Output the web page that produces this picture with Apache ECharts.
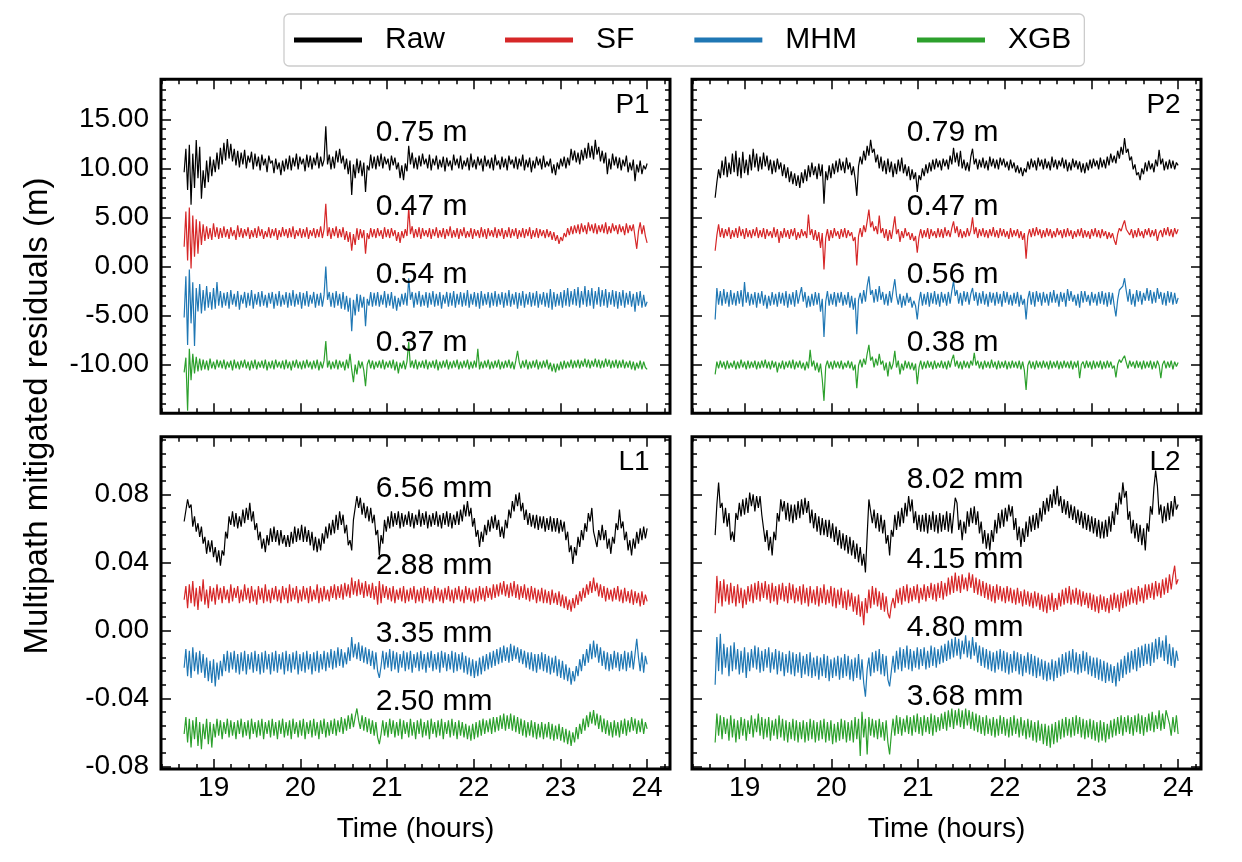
<!DOCTYPE html>
<html><head><meta charset="utf-8">
<script src="https://cdn.jsdelivr.net/npm/echarts@6/dist/echarts.min.js"></script>
<style>html,body{margin:0;padding:0;background:#fff}#c{width:1242px;height:862px}</style>
</head><body><div id="c"></div>
<script>
// ---------------- data ----------------
const seriesNames = ['Raw', 'SF', 'MHM', 'XGB'];
const panelNames = ['P1', 'P2', 'L1', 'L2'];
const xTicks = [19, 20, 21, 22, 23, 24];
const pTicks = [-10, -5, 0, 5, 10, 15];
const lTicks = [-0.08, -0.04, 0, 0.04, 0.08];
const tStart = 18.66, tEnd = 24.0;   // hours, first and last epoch

const p1Rms = ['0.75 m', '0.47 m', '0.54 m', '0.37 m'];
const p2Rms = ['0.79 m', '0.47 m', '0.56 m', '0.38 m'];
const l1Rms = ['6.56 mm', '2.88 mm', '3.35 mm', '2.50 mm'];
const l2Rms = ['8.02 mm', '4.15 mm', '4.80 mm', '3.68 mm'];

const p1Raw = [9.6,12.0,7.8,12.4,6.3,11.5,8.0,12.9,9.0,12.2,6.9,9.8,8.0,10.8,8.6,11.2,9.2,10.9,9.6,11.6,9.9,12.1,10.4,12.6,10.8,13.0,11.0,12.5,10.7,12.0,10.3,11.8,10.1,11.6,10.4,11.9,10.0,11.3,10.6,11.7,9.9,11.5,10.2,11.2,9.8,11.4,10.3,11.0,9.6,11.3,10.5,10.8,9.5,11.0,9.9,10.6,9.3,10.8,9.7,11.0,9.9,11.3,9.8,11.1,10.2,11.5,9.9,11.2,10.4,11.0,9.7,11.4,10.1,11.3,9.9,11.1,10.3,11.6,10.0,11.2,10.2,10.9,14.3,10.4,11.4,9.9,11.2,10.0,11.8,10.6,12.0,10.5,11.3,9.9,11.0,9.4,10.8,7.3,10.4,9.0,11.0,9.5,10.8,9.2,10.6,7.6,10.3,9.8,11.4,10.0,11.2,9.9,11.3,10.2,11.5,10.0,11.2,10.4,11.0,9.8,11.3,10.3,11.1,9.9,10.6,9.0,10.3,8.8,10.5,9.7,12.3,10.4,11.6,10.0,11.1,9.9,11.3,10.2,11.5,10.4,11.0,10.0,11.4,9.8,11.0,10.3,11.3,9.9,10.9,10.1,11.2,9.7,11.1,10.2,10.8,9.8,11.4,10.3,11.0,10.0,11.3,9.9,10.8,10.2,11.1,9.8,11.5,10.1,10.9,9.9,11.2,10.3,11.0,9.7,11.3,10.2,10.9,10.0,11.1,9.8,11.4,10.3,10.8,9.9,11.2,10.1,11.0,9.8,11.3,10.4,10.9,10.0,11.2,9.9,11.0,10.2,11.4,9.8,10.9,10.1,11.1,9.6,10.8,10.0,11.2,10.3,11.0,9.9,11.3,10.1,10.7,10.2,11.0,9.5,10.4,9.3,10.6,9.9,11.0,10.2,11.2,10.0,11.1,10.3,12.0,10.8,11.8,10.6,11.6,10.4,11.9,10.8,12.1,11.0,12.6,11.1,12.3,10.9,12.9,11.4,12.2,10.7,11.8,10.5,11.6,9.4,11.0,9.9,11.5,10.3,11.2,10.0,11.1,9.8,10.9,10.2,11.3,9.6,10.6,9.8,10.9,8.7,10.4,9.6,10.8,9.4,10.3,9.9,10.5];
const p1SF = [2.0,5.6,0.6,6.0,-0.2,5.2,1.0,4.8,1.3,4.6,2.2,4.3,2.6,4.1,2.8,3.9,2.7,4.4,3.0,4.0,2.8,3.9,2.9,4.1,3.0,3.8,2.8,4.0,3.1,3.7,2.7,4.2,3.0,3.9,2.9,3.8,3.1,4.0,2.8,3.7,3.0,3.9,2.9,4.1,3.1,3.8,2.8,3.6,3.0,4.0,2.9,3.8,3.1,3.9,2.7,3.7,3.0,4.0,3.1,3.8,2.9,3.9,3.0,4.1,2.8,3.7,3.1,3.9,2.9,3.8,3.0,4.0,2.8,3.7,3.1,3.9,2.9,3.8,3.0,4.1,2.9,3.8,6.4,3.1,4.0,2.8,3.9,3.1,4.1,2.9,3.8,3.0,4.0,2.7,3.6,2.5,3.5,1.6,3.3,2.2,3.9,2.7,3.8,2.9,3.7,1.3,3.4,2.8,3.9,3.0,3.8,2.9,3.9,3.1,3.7,2.8,4.0,3.0,3.8,2.9,3.9,3.1,3.7,2.6,3.5,2.4,3.6,2.9,3.8,3.1,6.0,3.3,4.1,2.9,3.8,3.0,4.0,2.8,3.9,3.1,3.7,3.0,3.9,2.8,3.8,3.1,4.0,2.9,3.7,3.0,3.9,2.8,3.8,3.1,4.1,2.9,3.7,3.0,3.9,2.8,3.8,3.1,4.0,2.9,3.6,3.0,3.9,2.8,3.8,3.1,3.7,2.9,4.0,3.0,3.8,2.8,3.9,3.1,3.7,3.0,4.0,2.9,3.8,3.1,3.9,2.8,3.7,3.0,4.0,2.9,3.8,3.1,3.9,2.8,3.7,3.0,3.9,2.9,3.8,3.1,4.0,2.8,3.7,3.0,3.9,2.9,3.8,3.1,3.7,2.9,3.8,3.0,3.6,2.7,3.5,2.6,3.2,2.3,3.0,2.6,3.4,3.0,3.9,3.2,4.1,3.3,4.2,3.4,4.3,3.3,4.4,3.5,4.2,3.3,4.5,3.6,4.3,3.4,4.4,3.3,4.2,3.5,4.3,3.4,4.5,3.3,4.1,3.4,4.4,3.6,4.2,3.3,4.3,3.5,4.1,3.2,4.4,3.4,4.2,3.6,4.3,3.0,1.8,3.6,4.5,3.3,4.2,3.1,2.4];
const p1MHM = [-5.2,-1.0,-8.0,-0.3,-5.8,-1.6,-8.1,-2.2,-4.6,-1.8,-4.8,-2.4,-4.5,-2.0,-4.2,-2.6,-4.4,-2.2,-4.3,-1.6,-4.0,-2.5,-4.2,-2.7,-4.0,-2.6,-4.3,-2.4,-3.9,-2.8,-4.1,-2.5,-4.4,-2.9,-3.8,-2.6,-4.2,-2.7,-4.0,-2.4,-4.3,-2.8,-3.9,-2.6,-4.1,-2.5,-4.0,-2.9,-4.2,-2.7,-3.8,-2.6,-4.3,-2.8,-4.0,-2.5,-4.1,-2.9,-3.9,-2.6,-4.2,-2.7,-4.0,-2.4,-4.1,-2.8,-3.9,-2.6,-4.3,-2.7,-4.0,-2.5,-4.1,-2.9,-3.8,-2.6,-4.2,-2.8,-4.0,-2.7,-4.1,-2.9,0.0,-3.4,-2.6,-4.1,-2.7,-4.2,-2.5,-4.0,-2.8,-4.3,-2.6,-4.4,-3.0,-4.6,-3.2,-6.6,-3.4,-5.0,-2.8,-4.6,-2.9,-4.2,-3.1,-6.1,-3.3,-4.0,-2.6,-4.1,-2.7,-4.0,-2.6,-4.1,-2.9,-3.9,-2.5,-4.2,-2.8,-4.0,-2.6,-4.3,-3.0,-4.5,-3.2,-4.1,-2.8,-3.9,-2.7,-4.0,-1.2,-3.4,-2.6,-4.2,-2.7,-3.9,-2.5,-4.1,-2.9,-4.0,-2.6,-4.2,-2.7,-3.9,-2.5,-4.1,-2.8,-4.0,-2.6,-4.3,-2.9,-3.8,-2.6,-4.1,-2.7,-4.0,-2.5,-4.2,-2.8,-3.9,-2.6,-4.1,-2.7,-4.0,-2.4,-4.2,-2.8,-3.9,-2.6,-4.1,-2.7,-4.3,-2.5,-4.0,-2.8,-3.9,-2.6,-4.2,-2.7,-4.0,-2.5,-4.1,-2.8,-3.9,-2.6,-4.2,-2.7,-4.0,-2.4,-4.1,-2.8,-3.9,-2.6,-4.3,-2.7,-4.0,-2.5,-4.2,-2.8,-3.9,-2.6,-4.1,-2.7,-4.0,-2.5,-4.2,-2.8,-3.9,-2.6,-4.1,-2.7,-4.2,-2.3,-4.4,-2.6,-4.1,-2.8,-4.0,-2.6,-4.2,-2.4,-4.0,-2.2,-4.1,-2.5,-3.9,-2.3,-4.0,-2.1,-4.2,-2.5,-3.9,-2.0,-4.1,-2.4,-4.0,-2.2,-4.3,-2.5,-3.9,-2.1,-4.1,-2.4,-4.0,-2.3,-4.2,-2.6,-3.9,-2.4,-4.1,-2.5,-4.3,-2.6,-4.0,-2.4,-4.2,-2.7,-3.9,-2.5,-4.1,-2.8,-4.6,-2.6,-4.0,-2.5,-4.2,-2.9,-4.1,-3.6];
const p1XGB = [-10.8,-9.3,-14.7,-8.4,-11.6,-8.9,-10.9,-9.2,-10.7,-9.4,-10.6,-9.5,-10.5,-9.6,-10.6,-9.4,-10.4,-9.7,-10.5,-9.5,-10.3,-9.6,-10.4,-9.5,-10.5,-9.7,-10.3,-9.6,-10.6,-9.5,-10.4,-9.7,-10.5,-9.6,-10.3,-9.5,-10.4,-9.7,-10.6,-9.6,-10.4,-9.5,-10.5,-9.7,-10.3,-9.6,-10.4,-9.5,-10.6,-9.7,-10.4,-9.6,-10.5,-9.5,-10.3,-9.7,-10.4,-9.6,-10.5,-9.5,-10.4,-9.7,-10.6,-9.6,-10.3,-9.5,-10.4,-9.7,-10.5,-9.6,-10.4,-9.5,-10.3,-9.7,-10.5,-9.6,-10.4,-9.5,-10.6,-9.7,-10.4,-9.6,-7.6,-10.3,-9.6,-10.5,-9.7,-10.4,-9.5,-10.5,-9.6,-10.3,-9.7,-10.6,-9.5,-10.4,-8.9,-10.5,-11.8,-10.0,-11.0,-9.6,-10.4,-9.7,-10.6,-12.2,-10.0,-9.5,-10.4,-9.6,-10.5,-9.7,-10.3,-9.6,-10.4,-9.5,-10.5,-9.7,-10.3,-9.6,-10.4,-9.5,-10.6,-9.7,-10.9,-9.8,-10.4,-9.6,-10.5,-9.7,-7.7,-10.3,-9.6,-10.4,-9.5,-10.5,-9.7,-10.3,-9.6,-10.4,-9.5,-10.5,-9.7,-10.3,-9.6,-10.4,-9.5,-10.6,-9.7,-10.4,-9.6,-10.3,-9.5,-10.5,-9.7,-10.4,-9.6,-10.3,-9.5,-10.5,-9.7,-10.4,-9.6,-10.3,-9.5,-10.5,-9.7,-10.4,-9.6,-10.3,-8.4,-10.5,-9.7,-10.4,-9.6,-10.3,-9.5,-10.5,-9.7,-10.4,-9.6,-10.3,-9.5,-10.5,-9.7,-10.4,-9.6,-10.3,-9.5,-10.4,-9.7,-10.5,-9.6,-8.6,-9.8,-10.4,-9.6,-10.3,-9.5,-10.5,-9.7,-10.4,-9.6,-10.3,-9.5,-10.5,-9.7,-10.4,-9.6,-10.3,-9.5,-10.5,-9.8,-10.7,-9.9,-10.8,-9.9,-10.6,-9.7,-10.5,-9.6,-10.4,-9.7,-10.3,-9.5,-10.4,-9.6,-10.3,-9.5,-10.4,-9.6,-10.2,-9.4,-10.3,-9.5,-10.4,-9.6,-10.2,-9.4,-10.3,-9.5,-10.4,-9.6,-10.3,-9.4,-10.2,-9.5,-10.4,-9.6,-10.3,-9.5,-10.4,-9.6,-10.3,-9.5,-10.4,-9.7,-10.3,-9.6,-10.5,-9.7,-10.6,-9.8,-10.4,-9.6,-10.5,-9.7,-10.3,-10.5];

const p2Raw = [7.0,8.6,9.9,9.0,10.8,9.3,11.2,9.1,10.6,9.4,11.5,9.6,11.8,9.2,11.1,9.0,11.7,9.5,10.9,9.3,11.4,9.8,12.0,10.1,11.5,9.7,11.2,9.9,11.6,10.2,11.3,9.8,10.9,9.4,10.8,9.6,11.0,9.9,10.6,9.2,10.4,9.0,10.1,8.6,9.7,8.4,9.5,8.2,9.3,8.0,9.6,8.5,9.9,8.7,10.3,9.1,10.6,9.3,10.2,8.9,10.5,9.2,10.4,6.4,9.7,8.8,10.3,9.0,10.5,9.4,10.8,9.6,11.0,9.8,10.7,9.5,11.1,9.9,10.6,9.3,10.2,9.0,7.2,10.2,11.2,10.4,11.8,10.8,12.3,11.3,12.9,11.6,12.0,10.6,11.4,10.0,11.2,9.7,10.8,9.4,11.0,9.6,10.7,9.1,10.5,9.4,10.9,9.7,11.1,9.5,10.4,9.2,10.2,8.8,9.9,8.9,9.6,7.6,9.3,8.8,10.0,9.2,10.4,9.5,10.6,9.7,10.9,9.9,11.0,10.1,10.8,9.8,11.0,10.2,10.9,9.9,11.3,10.4,12.1,10.6,11.6,10.2,11.8,10.0,10.9,9.8,10.6,9.7,11.2,12.0,10.4,11.0,9.9,10.9,10.1,11.1,10.0,10.8,9.8,11.2,10.2,11.0,10.0,10.9,9.9,11.1,10.3,11.0,10.1,10.7,9.8,10.9,10.0,10.6,9.6,10.3,9.5,10.1,9.2,10.0,9.6,10.7,9.9,11.0,10.1,10.8,9.8,11.1,10.2,10.9,9.9,11.0,10.0,10.7,9.8,11.2,10.1,10.9,9.9,10.8,10.2,11.1,10.0,10.9,9.7,10.6,9.8,11.0,10.1,10.8,9.9,10.7,9.6,10.5,9.5,10.6,9.8,10.9,10.0,11.0,10.2,10.8,9.9,11.1,10.1,10.9,10.0,11.2,10.3,11.5,10.6,11.3,10.5,11.8,11.0,12.2,11.4,13.1,11.6,12.0,10.8,11.2,9.9,10.4,9.3,9.6,8.8,10.0,9.4,10.6,9.7,10.8,9.9,10.5,9.6,10.9,10.2,11.9,10.4,11.0,9.8,10.7,9.9,10.9,10.0,10.8,9.9,10.6,10.3];
const p2SF = [1.6,3.2,4.3,3.0,3.9,2.9,3.8,3.1,4.0,2.8,3.7,3.0,3.9,2.9,4.1,3.1,3.8,2.8,3.9,3.0,3.7,2.9,3.8,3.1,4.0,2.9,3.7,3.0,3.9,2.8,3.8,3.1,3.6,2.9,4.0,3.0,3.8,2.4,3.6,2.9,3.9,3.0,3.7,2.8,3.8,3.1,3.9,2.7,3.5,2.9,3.8,3.1,3.6,2.9,5.3,3.2,3.8,2.7,3.7,2.6,3.5,1.9,3.4,-0.3,2.9,3.8,2.6,3.7,2.9,3.9,3.1,3.6,2.8,3.8,3.0,3.9,2.9,3.7,3.1,3.5,2.6,3.0,0.1,3.1,3.9,3.0,4.2,3.5,4.6,5.8,4.0,4.6,3.6,4.1,3.3,5.2,3.4,3.9,2.9,3.8,2.6,3.7,2.8,3.9,5.1,3.3,3.8,2.5,3.6,2.9,3.9,3.1,3.5,2.7,3.4,2.6,3.1,1.4,3.0,3.8,2.9,3.7,3.0,3.9,2.8,3.8,3.1,3.6,2.9,3.9,3.0,3.8,2.9,4.0,3.1,3.7,3.0,3.9,4.6,3.4,4.1,3.0,3.8,2.9,3.6,3.0,3.9,3.1,3.7,5.0,3.3,4.0,2.9,3.8,3.1,3.9,3.0,3.7,2.9,3.8,3.1,4.0,3.0,3.7,2.9,3.9,3.1,3.8,3.0,3.6,2.8,3.9,3.0,3.7,3.1,3.8,2.9,3.6,2.7,3.4,0.8,3.1,3.8,3.0,3.9,3.1,4.0,3.2,3.8,2.9,3.7,3.0,3.9,3.1,3.8,2.9,3.6,3.0,3.9,3.2,3.7,2.9,3.8,3.0,3.9,3.1,3.7,2.8,3.6,3.0,3.8,3.1,3.9,2.9,3.7,3.0,3.6,2.8,3.8,3.1,3.9,3.0,3.7,2.9,3.8,3.1,3.6,2.8,3.5,2.9,3.4,2.7,2.2,3.3,3.9,3.6,4.2,4.7,3.8,3.9,3.2,3.8,2.9,3.7,3.0,3.9,3.1,3.6,2.9,3.8,3.2,3.9,3.0,3.7,3.1,3.8,2.6,3.4,3.7,3.0,3.9,3.2,4.0,3.1,3.8,3.0,3.9,3.3,3.8];
const p2MHM = [-5.4,-2.2,-3.9,-2.5,-4.0,-2.3,-3.8,-2.6,-4.1,-2.4,-3.9,-2.7,-4.0,-2.5,-3.8,-2.4,-4.1,-1.6,-3.7,-2.6,-4.0,-2.8,-3.9,-2.6,-4.2,-2.7,-3.8,-2.5,-4.0,-2.9,-4.3,-3.0,-4.0,-2.6,-3.9,-2.8,-4.1,-2.6,-3.8,-2.7,-4.0,-2.5,-4.2,-2.8,-3.9,-2.6,-4.1,-2.4,-3.8,-2.9,-2.1,-3.6,-2.6,-4.2,-3.0,-4.1,-2.8,-4.0,-2.6,-3.9,-2.7,-4.6,-3.3,-7.2,-3.6,-2.5,-4.0,-2.8,-3.9,-2.6,-4.1,-2.7,-3.7,-2.6,-4.0,-2.9,-3.9,-2.6,-4.2,-3.0,-4.4,-3.2,-6.9,-3.4,-2.7,-3.8,-2.4,-3.6,-2.0,-1.0,-2.9,-2.4,-3.7,-2.3,-3.6,-2.0,-3.4,-2.6,-3.9,-2.8,-4.0,-2.5,-3.7,-2.4,-1.3,-3.0,-3.9,-2.8,-4.2,-3.0,-4.0,-2.7,-3.7,-3.1,-4.2,-3.5,-4.0,-5.4,-3.6,-2.6,-4.0,-2.8,-3.9,-2.6,-4.1,-2.7,-3.8,-2.5,-3.9,-2.8,-4.1,-2.6,-3.7,-2.8,-4.0,-2.6,-3.8,-2.5,-1.5,-3.0,-2.4,-3.8,-2.7,-4.0,-2.5,-3.6,-2.6,-3.9,-2.8,-2.2,-3.5,-2.6,-4.0,-2.7,-3.8,-2.5,-3.9,-2.8,-4.1,-2.6,-3.7,-2.7,-4.0,-2.6,-3.8,-2.8,-4.1,-2.5,-3.7,-2.6,-3.9,-2.9,-4.0,-2.7,-3.8,-2.6,-4.1,-2.9,-3.9,-3.3,-5.4,-3.3,-2.5,-3.9,-2.6,-4.1,-2.5,-3.6,-2.7,-4.0,-2.6,-3.7,-2.8,-4.0,-2.6,-3.7,-2.4,-3.7,-2.8,-4.1,-2.6,-3.6,-2.7,-4.1,-2.3,-3.5,-2.5,-3.6,-2.9,-4.0,-2.8,-4.2,-2.5,-3.7,-2.5,-3.6,-2.9,-4.0,-2.6,-3.7,-2.8,-4.0,-2.6,-3.8,-2.5,-3.9,-2.7,-4.1,-2.6,-3.9,-2.7,-4.0,-5.1,-3.4,-2.4,-2.2,-2.0,-1.2,-2.5,-3.6,-2.3,-3.9,-2.8,-4.1,-2.4,-3.6,-2.5,-3.9,-2.7,-3.5,-2.2,-3.5,-2.4,-3.8,-2.6,-3.7,-2.2,-3.3,-2.6,-3.9,-2.7,-4.0,-2.5,-3.7,-2.6,-3.9,-2.7,-3.8,-3.2];
const p2XGB = [-11.0,-9.7,-10.4,-9.6,-10.3,-9.7,-10.5,-9.6,-10.4,-9.8,-10.3,-9.6,-10.5,-9.7,-10.4,-9.5,-10.3,-9.7,-10.5,-9.6,-10.4,-9.7,-10.3,-9.6,-10.5,-9.7,-10.4,-9.6,-10.3,-9.5,-10.4,-9.7,-10.5,-9.6,-10.3,-9.7,-10.8,-9.8,-10.4,-9.6,-10.5,-9.7,-10.3,-9.6,-10.4,-9.5,-10.5,-9.7,-10.3,-9.6,-10.4,-9.8,-10.6,-9.7,-10.4,-8.5,-10.2,-9.6,-10.6,-9.8,-10.8,-9.9,-11.5,-13.7,-10.2,-9.6,-10.4,-9.7,-10.5,-9.6,-10.3,-9.7,-10.4,-9.6,-10.5,-9.8,-10.3,-9.6,-10.4,-9.7,-10.6,-10.0,-12.4,-10.1,-9.5,-10.3,-9.4,-10.0,-8.9,-8.0,-9.6,-9.2,-10.3,-9.4,-10.1,-8.9,-10.0,-9.6,-10.6,-9.8,-11.2,-9.7,-10.5,-9.9,-8.6,-10.3,-9.6,-11.0,-9.9,-10.6,-9.6,-10.4,-9.7,-10.5,-9.8,-10.6,-9.9,-12.0,-10.3,-9.6,-10.5,-9.7,-10.4,-9.6,-10.3,-9.7,-10.5,-9.6,-10.4,-9.8,-10.3,-9.6,-10.4,-9.7,-10.5,-9.6,-10.3,-9.5,-9.0,-10.2,-9.6,-10.4,-9.7,-10.5,-9.6,-10.3,-9.7,-10.4,-9.6,-10.1,-8.8,-10.1,-9.6,-10.4,-9.7,-10.5,-9.6,-10.3,-9.7,-10.4,-9.5,-10.3,-9.7,-10.5,-9.6,-10.4,-9.7,-10.3,-9.6,-10.5,-9.7,-10.4,-9.6,-10.3,-9.7,-10.4,-9.6,-10.5,-9.7,-10.6,-12.6,-10.1,-9.6,-10.4,-9.7,-10.5,-9.6,-10.3,-9.7,-10.4,-9.6,-10.3,-9.7,-10.5,-9.6,-10.4,-9.7,-10.3,-9.6,-10.5,-9.7,-10.4,-9.6,-10.3,-9.7,-10.4,-9.6,-10.5,-9.7,-10.3,-9.6,-11.4,-10.0,-9.7,-10.4,-9.6,-10.3,-9.7,-10.5,-9.6,-10.4,-9.7,-10.3,-9.6,-10.5,-9.7,-10.4,-9.6,-10.3,-9.7,-10.4,-10.1,-11.3,-10.0,-9.5,-9.8,-9.4,-9.1,-9.8,-10.4,-9.6,-10.2,-9.7,-10.4,-9.6,-10.3,-9.7,-10.5,-9.6,-10.4,-9.7,-10.3,-9.6,-10.5,-9.7,-10.4,-9.6,-10.1,-11.4,-10.0,-9.6,-10.4,-9.7,-10.3,-9.6,-10.5,-9.7,-10.2,-9.8];

const l1Raw = [0.064,0.063,0.077,0.072,0.074,0.061,0.067,0.058,0.063,0.055,0.061,0.051,0.055,0.045,0.053,0.046,0.053,0.043,0.049,0.040,0.047,0.038,0.047,0.044,0.058,0.054,0.067,0.062,0.070,0.061,0.069,0.060,0.067,0.061,0.071,0.063,0.072,0.065,0.075,0.064,0.070,0.059,0.063,0.053,0.058,0.048,0.054,0.046,0.056,0.050,0.060,0.052,0.061,0.052,0.059,0.050,0.059,0.051,0.056,0.049,0.056,0.049,0.058,0.051,0.061,0.052,0.060,0.053,0.062,0.052,0.061,0.052,0.059,0.050,0.058,0.047,0.055,0.046,0.054,0.047,0.057,0.051,0.061,0.054,0.063,0.056,0.065,0.057,0.068,0.059,0.070,0.062,0.068,0.057,0.062,0.050,0.053,0.047,0.065,0.064,0.079,0.072,0.078,0.068,0.075,0.066,0.073,0.064,0.072,0.063,0.068,0.056,0.059,0.044,0.056,0.051,0.065,0.058,0.067,0.060,0.070,0.061,0.069,0.062,0.070,0.060,0.069,0.061,0.068,0.062,0.070,0.061,0.069,0.060,0.068,0.062,0.071,0.061,0.069,0.062,0.070,0.060,0.068,0.061,0.069,0.062,0.070,0.061,0.068,0.060,0.069,0.062,0.070,0.061,0.069,0.060,0.068,0.062,0.070,0.062,0.071,0.064,0.074,0.067,0.076,0.067,0.072,0.061,0.066,0.055,0.059,0.049,0.058,0.052,0.062,0.056,0.065,0.058,0.067,0.060,0.068,0.059,0.065,0.055,0.061,0.054,0.065,0.060,0.071,0.066,0.076,0.070,0.080,0.073,0.081,0.070,0.075,0.065,0.071,0.062,0.069,0.061,0.068,0.060,0.068,0.059,0.067,0.060,0.067,0.058,0.066,0.059,0.067,0.058,0.066,0.058,0.066,0.057,0.065,0.058,0.064,0.053,0.058,0.046,0.050,0.039,0.049,0.044,0.055,0.049,0.059,0.053,0.063,0.058,0.069,0.064,0.072,0.058,0.059,0.049,0.059,0.053,0.062,0.053,0.059,0.048,0.054,0.045,0.055,0.051,0.063,0.059,0.071,0.060,0.064,0.053,0.058,0.047,0.053,0.044,0.054,0.048,0.058,0.051,0.060,0.053,0.061,0.054,0.060];
const l1SF = [0.018,0.026,0.013,0.027,0.016,0.029,0.014,0.025,0.012,0.026,0.017,0.030,0.015,0.024,0.013,0.026,0.017,0.025,0.015,0.027,0.018,0.025,0.016,0.026,0.018,0.024,0.016,0.027,0.017,0.025,0.019,0.026,0.016,0.024,0.017,0.027,0.018,0.025,0.016,0.026,0.017,0.024,0.015,0.026,0.018,0.025,0.016,0.027,0.017,0.024,0.016,0.025,0.018,0.026,0.017,0.024,0.016,0.026,0.018,0.025,0.016,0.027,0.017,0.025,0.018,0.026,0.016,0.024,0.017,0.026,0.018,0.025,0.016,0.026,0.017,0.024,0.018,0.027,0.016,0.025,0.017,0.026,0.018,0.024,0.017,0.026,0.019,0.027,0.018,0.026,0.019,0.027,0.018,0.028,0.020,0.027,0.019,0.031,0.021,0.029,0.020,0.030,0.021,0.028,0.019,0.029,0.020,0.027,0.019,0.028,0.018,0.026,0.015,0.029,0.016,0.027,0.019,0.026,0.018,0.025,0.017,0.026,0.016,0.024,0.018,0.025,0.017,0.026,0.016,0.024,0.017,0.025,0.018,0.026,0.016,0.024,0.017,0.025,0.016,0.026,0.018,0.025,0.017,0.024,0.016,0.026,0.018,0.025,0.017,0.024,0.016,0.025,0.018,0.026,0.017,0.024,0.016,0.025,0.018,0.026,0.017,0.024,0.016,0.026,0.018,0.025,0.017,0.024,0.016,0.025,0.017,0.026,0.018,0.025,0.017,0.026,0.019,0.025,0.018,0.027,0.019,0.027,0.020,0.028,0.021,0.029,0.020,0.027,0.019,0.028,0.020,0.029,0.019,0.027,0.018,0.026,0.019,0.027,0.018,0.025,0.017,0.026,0.018,0.025,0.016,0.024,0.017,0.025,0.016,0.024,0.016,0.023,0.015,0.024,0.016,0.022,0.015,0.023,0.014,0.021,0.013,0.020,0.012,0.018,0.011,0.019,0.013,0.021,0.015,0.023,0.017,0.025,0.019,0.027,0.021,0.029,0.022,0.031,0.023,0.028,0.020,0.027,0.019,0.026,0.017,0.025,0.018,0.024,0.017,0.025,0.018,0.026,0.017,0.024,0.016,0.025,0.017,0.023,0.016,0.024,0.015,0.023,0.016,0.022,0.014,0.023,0.015,0.021,0.017];
const l1MHM = [-0.022,-0.011,-0.027,-0.012,-0.028,-0.010,-0.024,-0.013,-0.026,-0.012,-0.025,-0.014,-0.028,-0.016,-0.030,-0.018,-0.031,-0.017,-0.033,-0.019,-0.029,-0.018,-0.027,-0.014,-0.024,-0.012,-0.025,-0.013,-0.023,-0.012,-0.025,-0.014,-0.026,-0.013,-0.024,-0.012,-0.026,-0.014,-0.023,-0.013,-0.025,-0.012,-0.024,-0.014,-0.026,-0.013,-0.025,-0.012,-0.023,-0.014,-0.026,-0.013,-0.024,-0.012,-0.025,-0.014,-0.023,-0.013,-0.026,-0.012,-0.024,-0.014,-0.025,-0.013,-0.023,-0.012,-0.026,-0.014,-0.024,-0.013,-0.025,-0.012,-0.023,-0.014,-0.026,-0.013,-0.024,-0.012,-0.025,-0.014,-0.023,-0.012,-0.024,-0.013,-0.022,-0.011,-0.023,-0.012,-0.022,-0.010,-0.021,-0.011,-0.022,-0.013,-0.020,-0.010,-0.018,-0.004,-0.016,-0.008,-0.017,-0.007,-0.018,-0.009,-0.019,-0.010,-0.020,-0.011,-0.021,-0.012,-0.023,-0.013,-0.024,-0.028,-0.021,-0.012,-0.023,-0.013,-0.022,-0.011,-0.024,-0.012,-0.023,-0.013,-0.025,-0.014,-0.022,-0.012,-0.024,-0.013,-0.023,-0.012,-0.025,-0.014,-0.022,-0.013,-0.024,-0.012,-0.023,-0.014,-0.025,-0.013,-0.022,-0.012,-0.024,-0.014,-0.023,-0.013,-0.025,-0.012,-0.022,-0.013,-0.024,-0.014,-0.023,-0.012,-0.025,-0.013,-0.024,-0.014,-0.023,-0.013,-0.025,-0.015,-0.026,-0.016,-0.027,-0.017,-0.028,-0.018,-0.027,-0.016,-0.026,-0.015,-0.024,-0.014,-0.023,-0.013,-0.022,-0.012,-0.021,-0.011,-0.020,-0.010,-0.019,-0.009,-0.018,-0.010,-0.019,-0.008,-0.018,-0.009,-0.017,-0.010,-0.019,-0.011,-0.020,-0.012,-0.022,-0.013,-0.023,-0.013,-0.024,-0.014,-0.025,-0.014,-0.023,-0.013,-0.024,-0.014,-0.025,-0.015,-0.026,-0.016,-0.025,-0.015,-0.027,-0.017,-0.028,-0.018,-0.029,-0.020,-0.030,-0.022,-0.032,-0.024,-0.030,-0.021,-0.027,-0.017,-0.024,-0.014,-0.021,-0.011,-0.019,-0.008,-0.017,-0.006,-0.016,-0.008,-0.019,-0.010,-0.021,-0.012,-0.023,-0.013,-0.024,-0.014,-0.023,-0.012,-0.022,-0.013,-0.024,-0.014,-0.023,-0.012,-0.024,-0.013,-0.022,-0.012,-0.023,-0.014,-0.005,-0.016,-0.024,-0.013,-0.025,-0.015,-0.020];
const l1XGB = [-0.061,-0.051,-0.066,-0.052,-0.069,-0.053,-0.064,-0.051,-0.068,-0.054,-0.070,-0.055,-0.064,-0.052,-0.067,-0.054,-0.069,-0.055,-0.063,-0.052,-0.062,-0.053,-0.064,-0.054,-0.061,-0.052,-0.063,-0.053,-0.062,-0.054,-0.064,-0.053,-0.061,-0.052,-0.063,-0.054,-0.062,-0.053,-0.064,-0.052,-0.061,-0.054,-0.063,-0.053,-0.062,-0.052,-0.064,-0.054,-0.061,-0.053,-0.063,-0.052,-0.062,-0.054,-0.064,-0.053,-0.061,-0.052,-0.063,-0.054,-0.062,-0.053,-0.064,-0.052,-0.061,-0.054,-0.063,-0.053,-0.062,-0.052,-0.064,-0.054,-0.061,-0.053,-0.063,-0.052,-0.062,-0.054,-0.064,-0.053,-0.061,-0.052,-0.063,-0.054,-0.062,-0.053,-0.061,-0.052,-0.062,-0.053,-0.060,-0.051,-0.061,-0.052,-0.059,-0.050,-0.058,-0.049,-0.057,-0.051,-0.046,-0.053,-0.058,-0.050,-0.059,-0.051,-0.060,-0.052,-0.061,-0.053,-0.062,-0.054,-0.063,-0.067,-0.061,-0.053,-0.062,-0.054,-0.063,-0.052,-0.061,-0.053,-0.063,-0.054,-0.062,-0.052,-0.064,-0.053,-0.061,-0.054,-0.063,-0.052,-0.062,-0.054,-0.064,-0.053,-0.061,-0.052,-0.063,-0.054,-0.062,-0.053,-0.064,-0.052,-0.061,-0.054,-0.063,-0.053,-0.062,-0.052,-0.064,-0.054,-0.061,-0.053,-0.063,-0.052,-0.062,-0.054,-0.064,-0.053,-0.062,-0.054,-0.063,-0.055,-0.064,-0.056,-0.065,-0.055,-0.064,-0.054,-0.063,-0.053,-0.062,-0.052,-0.061,-0.053,-0.060,-0.052,-0.061,-0.051,-0.060,-0.051,-0.059,-0.050,-0.058,-0.049,-0.059,-0.050,-0.058,-0.049,-0.059,-0.050,-0.060,-0.051,-0.061,-0.052,-0.062,-0.053,-0.063,-0.054,-0.062,-0.053,-0.063,-0.054,-0.064,-0.055,-0.063,-0.054,-0.064,-0.055,-0.063,-0.054,-0.064,-0.055,-0.065,-0.056,-0.064,-0.055,-0.065,-0.057,-0.066,-0.058,-0.067,-0.059,-0.068,-0.060,-0.066,-0.057,-0.064,-0.055,-0.061,-0.052,-0.059,-0.050,-0.057,-0.048,-0.055,-0.047,-0.056,-0.049,-0.058,-0.050,-0.060,-0.052,-0.061,-0.053,-0.062,-0.054,-0.063,-0.053,-0.062,-0.054,-0.063,-0.053,-0.061,-0.052,-0.062,-0.053,-0.060,-0.051,-0.059,-0.052,-0.061,-0.053,-0.060,-0.052,-0.061,-0.054,-0.058];

const l2Raw = [0.056,0.074,0.087,0.072,0.075,0.063,0.072,0.061,0.069,0.053,0.058,0.052,0.069,0.065,0.075,0.067,0.077,0.068,0.078,0.069,0.081,0.073,0.080,0.070,0.079,0.072,0.079,0.068,0.067,0.052,0.059,0.047,0.055,0.044,0.058,0.053,0.069,0.064,0.077,0.070,0.076,0.065,0.075,0.064,0.074,0.063,0.074,0.065,0.076,0.066,0.077,0.068,0.078,0.069,0.076,0.063,0.071,0.060,0.069,0.058,0.067,0.056,0.066,0.056,0.065,0.055,0.065,0.054,0.063,0.052,0.061,0.050,0.059,0.048,0.057,0.047,0.056,0.045,0.055,0.044,0.053,0.042,0.051,0.040,0.049,0.038,0.045,0.034,0.056,0.077,0.077,0.063,0.071,0.060,0.069,0.058,0.068,0.057,0.065,0.051,0.056,0.044,0.059,0.055,0.068,0.059,0.070,0.061,0.072,0.063,0.075,0.067,0.079,0.070,0.077,0.063,0.070,0.059,0.068,0.058,0.068,0.058,0.069,0.057,0.068,0.059,0.070,0.058,0.068,0.057,0.069,0.058,0.068,0.059,0.070,0.058,0.069,0.057,0.068,0.078,0.075,0.059,0.065,0.053,0.064,0.057,0.070,0.061,0.072,0.063,0.073,0.062,0.070,0.057,0.064,0.051,0.059,0.048,0.057,0.047,0.059,0.052,0.065,0.057,0.069,0.060,0.071,0.061,0.072,0.064,0.074,0.067,0.073,0.059,0.066,0.053,0.061,0.049,0.060,0.052,0.064,0.055,0.067,0.058,0.068,0.059,0.069,0.060,0.072,0.064,0.076,0.068,0.078,0.070,0.080,0.072,0.083,0.074,0.085,0.073,0.079,0.069,0.077,0.068,0.076,0.066,0.074,0.065,0.073,0.063,0.071,0.062,0.070,0.060,0.069,0.059,0.068,0.058,0.067,0.057,0.066,0.055,0.065,0.054,0.064,0.054,0.065,0.055,0.067,0.058,0.070,0.062,0.075,0.068,0.081,0.074,0.087,0.078,0.082,0.065,0.070,0.057,0.065,0.054,0.063,0.052,0.062,0.050,0.060,0.047,0.063,0.058,0.073,0.068,0.084,0.094,0.085,0.068,0.074,0.063,0.073,0.064,0.075,0.065,0.076,0.067,0.079,0.071,0.074];
const l2SF = [0.010,0.032,0.016,0.029,0.014,0.030,0.017,0.027,0.015,0.028,0.016,0.026,0.014,0.027,0.016,0.025,0.013,0.024,0.015,0.026,0.017,0.027,0.016,0.028,0.018,0.029,0.017,0.028,0.019,0.029,0.018,0.027,0.016,0.028,0.017,0.026,0.015,0.027,0.018,0.028,0.017,0.026,0.016,0.028,0.018,0.027,0.016,0.025,0.017,0.026,0.015,0.027,0.016,0.025,0.014,0.026,0.016,0.024,0.015,0.026,0.014,0.025,0.016,0.027,0.015,0.024,0.016,0.026,0.014,0.025,0.013,0.024,0.015,0.025,0.013,0.023,0.012,0.024,0.014,0.022,0.011,0.020,0.009,0.021,0.008,0.017,0.003,0.019,0.010,0.024,0.013,0.026,0.015,0.025,0.014,0.023,0.012,0.022,0.011,0.020,0.010,0.007,0.015,0.019,0.013,0.024,0.016,0.025,0.015,0.026,0.017,0.027,0.016,0.025,0.017,0.026,0.018,0.027,0.016,0.025,0.018,0.027,0.017,0.026,0.019,0.028,0.018,0.027,0.017,0.028,0.019,0.029,0.018,0.028,0.020,0.031,0.021,0.032,0.022,0.034,0.023,0.032,0.022,0.033,0.024,0.031,0.023,0.034,0.025,0.033,0.022,0.031,0.021,0.030,0.020,0.029,0.019,0.028,0.018,0.027,0.017,0.026,0.016,0.027,0.018,0.026,0.017,0.025,0.016,0.026,0.017,0.025,0.016,0.024,0.015,0.025,0.016,0.023,0.014,0.024,0.015,0.023,0.014,0.022,0.013,0.023,0.014,0.022,0.012,0.021,0.011,0.020,0.010,0.021,0.012,0.022,0.011,0.019,0.012,0.022,0.014,0.024,0.015,0.025,0.016,0.026,0.015,0.024,0.016,0.025,0.015,0.024,0.014,0.023,0.015,0.022,0.013,0.022,0.012,0.021,0.011,0.020,0.010,0.021,0.012,0.020,0.011,0.019,0.010,0.021,0.012,0.022,0.013,0.021,0.011,0.022,0.013,0.023,0.014,0.024,0.015,0.025,0.016,0.024,0.015,0.026,0.017,0.025,0.016,0.027,0.018,0.027,0.019,0.028,0.018,0.029,0.020,0.028,0.019,0.030,0.021,0.031,0.022,0.033,0.024,0.032,0.038,0.027,0.030];
const l2MHM = [-0.032,-0.004,-0.024,-0.002,-0.026,-0.008,-0.022,-0.010,-0.027,-0.009,-0.024,-0.007,-0.023,-0.011,-0.026,-0.012,-0.025,-0.010,-0.028,-0.013,-0.024,-0.011,-0.022,-0.009,-0.023,-0.010,-0.025,-0.012,-0.024,-0.011,-0.022,-0.010,-0.025,-0.013,-0.023,-0.011,-0.026,-0.012,-0.024,-0.013,-0.027,-0.014,-0.025,-0.012,-0.026,-0.013,-0.027,-0.014,-0.025,-0.013,-0.028,-0.015,-0.026,-0.014,-0.027,-0.013,-0.028,-0.016,-0.027,-0.015,-0.029,-0.016,-0.027,-0.014,-0.028,-0.015,-0.030,-0.017,-0.028,-0.016,-0.027,-0.015,-0.029,-0.016,-0.028,-0.014,-0.027,-0.015,-0.029,-0.017,-0.030,-0.016,-0.028,-0.014,-0.029,-0.017,-0.031,-0.039,-0.023,-0.016,-0.027,-0.013,-0.025,-0.012,-0.024,-0.011,-0.026,-0.014,-0.027,-0.015,-0.029,-0.033,-0.024,-0.015,-0.025,-0.012,-0.023,-0.010,-0.024,-0.011,-0.022,-0.009,-0.023,-0.011,-0.024,-0.012,-0.022,-0.010,-0.023,-0.011,-0.021,-0.010,-0.023,-0.012,-0.022,-0.009,-0.021,-0.010,-0.022,-0.011,-0.020,-0.009,-0.019,-0.008,-0.018,-0.006,-0.017,-0.005,-0.016,-0.004,-0.015,-0.005,-0.017,-0.006,-0.014,-0.003,-0.016,-0.006,-0.017,-0.004,-0.015,-0.007,-0.019,-0.009,-0.021,-0.010,-0.022,-0.011,-0.023,-0.012,-0.024,-0.013,-0.025,-0.012,-0.023,-0.011,-0.024,-0.012,-0.025,-0.013,-0.026,-0.014,-0.025,-0.012,-0.024,-0.013,-0.026,-0.014,-0.027,-0.015,-0.025,-0.013,-0.026,-0.014,-0.027,-0.015,-0.028,-0.016,-0.027,-0.017,-0.029,-0.018,-0.030,-0.019,-0.029,-0.017,-0.030,-0.018,-0.028,-0.016,-0.027,-0.014,-0.026,-0.013,-0.025,-0.012,-0.024,-0.011,-0.025,-0.013,-0.026,-0.014,-0.025,-0.012,-0.024,-0.013,-0.026,-0.015,-0.027,-0.016,-0.028,-0.016,-0.029,-0.017,-0.030,-0.018,-0.031,-0.019,-0.030,-0.020,-0.031,-0.021,-0.033,-0.019,-0.030,-0.017,-0.028,-0.015,-0.026,-0.013,-0.025,-0.012,-0.023,-0.011,-0.024,-0.010,-0.022,-0.009,-0.021,-0.008,-0.020,-0.008,-0.021,-0.007,-0.019,-0.005,-0.017,-0.004,-0.016,-0.006,-0.018,-0.003,-0.020,-0.008,-0.021,-0.010,-0.022,-0.012,-0.018];
const l2XGB = [-0.066,-0.049,-0.062,-0.050,-0.064,-0.051,-0.061,-0.052,-0.065,-0.050,-0.063,-0.052,-0.066,-0.053,-0.064,-0.051,-0.062,-0.052,-0.065,-0.053,-0.061,-0.050,-0.063,-0.052,-0.060,-0.049,-0.062,-0.051,-0.064,-0.052,-0.063,-0.051,-0.065,-0.053,-0.062,-0.052,-0.064,-0.050,-0.063,-0.052,-0.065,-0.053,-0.066,-0.054,-0.064,-0.052,-0.065,-0.053,-0.066,-0.054,-0.064,-0.053,-0.066,-0.054,-0.065,-0.052,-0.064,-0.053,-0.066,-0.054,-0.065,-0.053,-0.064,-0.052,-0.066,-0.054,-0.065,-0.053,-0.067,-0.055,-0.066,-0.054,-0.065,-0.052,-0.064,-0.053,-0.066,-0.054,-0.065,-0.053,-0.066,-0.051,-0.064,-0.052,-0.074,-0.048,-0.063,-0.052,-0.073,-0.051,-0.062,-0.052,-0.063,-0.053,-0.064,-0.052,-0.063,-0.054,-0.065,-0.053,-0.066,-0.073,-0.061,-0.052,-0.062,-0.050,-0.061,-0.051,-0.062,-0.052,-0.060,-0.050,-0.061,-0.051,-0.062,-0.050,-0.060,-0.049,-0.061,-0.051,-0.062,-0.050,-0.060,-0.051,-0.061,-0.049,-0.062,-0.050,-0.060,-0.051,-0.059,-0.049,-0.058,-0.048,-0.059,-0.047,-0.057,-0.046,-0.058,-0.047,-0.056,-0.046,-0.057,-0.047,-0.058,-0.046,-0.056,-0.047,-0.058,-0.048,-0.059,-0.049,-0.060,-0.050,-0.061,-0.051,-0.062,-0.050,-0.061,-0.052,-0.062,-0.051,-0.063,-0.052,-0.062,-0.050,-0.061,-0.051,-0.062,-0.052,-0.063,-0.051,-0.062,-0.050,-0.061,-0.052,-0.063,-0.051,-0.062,-0.053,-0.064,-0.052,-0.063,-0.053,-0.065,-0.054,-0.066,-0.053,-0.065,-0.055,-0.067,-0.055,-0.068,-0.056,-0.069,-0.055,-0.067,-0.054,-0.066,-0.053,-0.064,-0.052,-0.063,-0.051,-0.062,-0.052,-0.063,-0.051,-0.062,-0.050,-0.061,-0.051,-0.063,-0.052,-0.064,-0.053,-0.063,-0.052,-0.064,-0.053,-0.065,-0.054,-0.066,-0.053,-0.065,-0.054,-0.066,-0.055,-0.064,-0.053,-0.063,-0.052,-0.062,-0.051,-0.061,-0.050,-0.062,-0.051,-0.060,-0.050,-0.061,-0.051,-0.062,-0.050,-0.060,-0.049,-0.061,-0.050,-0.062,-0.051,-0.060,-0.049,-0.059,-0.048,-0.060,-0.050,-0.058,-0.047,-0.059,-0.049,-0.058,-0.047,-0.046,-0.055,-0.062,-0.051,-0.060,-0.050,-0.061];

// ---------------- layout / style ----------------
const FONT = '"Liberation Sans", Arial, Helvetica, sans-serif';
const COLORS = ['#000000', '#d62728', '#1f77b4', '#2ca02c'];
const GRID = [
  {left: 161, top: 79.3, width: 509, height: 334},
  {left: 692, top: 79.3, width: 509, height: 334},
  {left: 161, top: 436.7, width: 509, height: 332.3},
  {left: 692, top: 436.7, width: 509, height: 332.3}
];
const X_RANGE = [18.393, 24.264];
const Y_RANGE = [[-14.97, 19.08], [-14.97, 19.08], [-0.0816, 0.1139], [-0.0816, 0.1139]];
const ANNOT_X = 20.87;
const ANNOT_Y = [[13.6, 6.05, -0.8, -7.75], [13.6, 6.05, -0.8, -7.75],
                 [0.0833, 0.038, -0.0022, -0.0422], [0.0884, 0.0414, 0.0014, -0.039]];

const panelSeries = [[p1Raw, p1SF, p1MHM, p1XGB], [p2Raw, p2SF, p2MHM, p2XGB],
                     [l1Raw, l1SF, l1MHM, l1XGB], [l2Raw, l2SF, l2MHM, l2XGB]];
const panelRms = [p1Rms, p2Rms, l1Rms, l2Rms];

// minor ticks
const xMinor = []; for (let k = 92; k <= 121; k++) if (k % 5) xMinor.push(k / 5);
const pMinor = []; for (let k = -14; k <= 19; k++) if (k % 5) pMinor.push(k);
const lMinor = []; for (let k = -10; k <= 14; k++) if (k % 5) lMinor.push(+(k * 0.008).toFixed(4));

const tickLine = {color: '#000', width: 1.5};
const xAxes = [], yAxes = [], series = [], graphics = [];

GRID.forEach((g, gi) => {
  const bottomRow = gi >= 2;
  const yT = bottomRow ? lTicks : pTicks;
  const yM = bottomRow ? lMinor : pMinor;
  const mkX = (pos, vals, len, lab) => ({
    type: 'value', gridIndex: gi, position: pos, min: X_RANGE[0], max: X_RANGE[1],
    axisLine: {show: false, onZero: false},
    axisTick: {show: true, inside: true, length: len, customValues: vals, lineStyle: tickLine},
    axisLabel: lab ? {show: true, customValues: xTicks, fontSize: 28, color: '#000', fontFamily: FONT, margin: 5,
                      formatter: v => String(v)} : {show: false},
    splitLine: {show: false},
    name: lab ? 'Time (hours)' : '', nameLocation: 'middle', nameGap: 46,
    nameTextStyle: {fontSize: 28, color: '#000', fontFamily: FONT}
  });
  const mkY = (pos, vals, len, lab) => ({
    type: 'value', gridIndex: gi, position: pos, min: Y_RANGE[gi][0], max: Y_RANGE[gi][1],
    axisLine: {show: false, onZero: false},
    axisTick: {show: true, inside: true, length: len, customValues: vals, lineStyle: tickLine},
    axisLabel: lab ? {show: true, customValues: yT, fontSize: 28, color: '#000', fontFamily: FONT, margin: 12,
                      formatter: v => v.toFixed(2)} : {show: false},
    splitLine: {show: false}
  });
  xAxes.push(mkX('bottom', xTicks, 10, bottomRow), mkX('bottom', xMinor, 5, false),
             mkX('top', xTicks, 10, false), mkX('top', xMinor, 5, false));
  const leftCol = gi % 2 === 0;
  yAxes.push(mkY('left', yT, 10, leftCol), mkY('left', yM, 5, false),
             mkY('right', yT, 10, false), mkY('right', yM, 5, false));

  panelSeries[gi].forEach((vals, si) => {
    const n = vals.length;
    series.push({
      type: 'line', name: seriesNames[si], xAxisIndex: gi * 4, yAxisIndex: gi * 4,
      data: vals.map((v, i) => [tStart + i * (tEnd - tStart) / (n - 1), v]),
      showSymbol: false, symbol: 'none', animation: false,
      lineStyle: {color: COLORS[si], width: 1.2}, itemStyle: {color: COLORS[si]},
      emphasis: {disabled: true}
    });
  });
  series.push({
    type: 'scatter', name: 'rms' + gi, xAxisIndex: gi * 4, yAxisIndex: gi * 4,
    symbolSize: 0, animation: false, silent: true, z: 10,
    itemStyle: {color: '#000', opacity: 1},
    data: panelRms[gi].map((t, k) => ({name: t, value: [ANNOT_X, ANNOT_Y[gi][k]]})),
    label: {show: true, position: 'right', distance: 0, formatter: '{b}', fontSize: 30, color: '#000000', opacity: 1, fontFamily: FONT}
  });
  graphics.push({
    type: 'text', x: g.left + 0.96 * g.width, y: g.top + 26, z: 100,
    style: {text: panelNames[gi], font: '28px ' + FONT, fill: '#000', textAlign: 'right', textVerticalAlign: 'middle'}
  });
});

graphics.push({
  type: 'text', x: 38, y: 416, rotation: Math.PI / 2, z: 100,
  style: {text: 'Multipath mitigated residuals (m)', font: '33px ' + FONT, fill: '#000', textAlign: 'center', textVerticalAlign: 'middle'}
});

const chart = echarts.init(document.getElementById('c'), null, {renderer: 'canvas'});
chart.setOption({
  animation: false,
  backgroundColor: '#ffffff',
  grid: GRID.map(g => Object.assign({show: true, borderColor: '#000', borderWidth: 3, backgroundColor: 'transparent', containLabel: false}, g)),
  xAxis: xAxes,
  yAxis: yAxes,
  legend: {
    data: seriesNames, left: 284, top: 14, orient: 'horizontal',
    icon: 'rect', itemWidth: 68, itemHeight: 5, itemGap: 60,
    borderColor: '#cccccc', borderWidth: 1.3, borderRadius: 5,
    padding: [11, 13, 11, 10], selectedMode: false,
    textStyle: {fontSize: 30, color: '#000', fontFamily: FONT, padding: [0, 0, 0, 18]}
  },
  series: series,
  graphic: graphics
});
</script>
</body></html>
